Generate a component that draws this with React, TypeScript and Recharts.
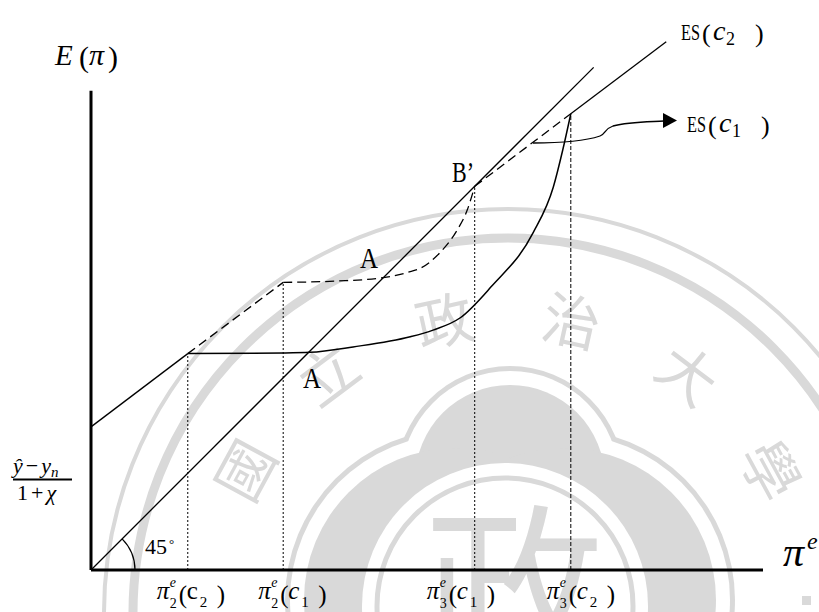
import React from 'react';
import { ComposedChart, Line, XAxis, YAxis } from 'recharts';

// ---- chart geometry -------------------------------------------------------
const W = 819;
const H = 612;
const M = { top: 32.4, right: 56, bottom: 42, left: 91 };
const X_MAX = 10;
const Y_MAX = 8;
const px = (v: number) => M.left + (v / X_MAX) * (W - M.left - M.right);
const py = (v: number) => H - M.bottom - (v / Y_MAX) * (H - M.top - M.bottom);

// ---- data (expected inflation vs. expected price level) -------------------
const axisVertical = [{ x: 0, y: 0 }, { x: 0, y: 7.13 }];
const axisHorizontal = [{ x: 0, y: 0 }, { x: 10, y: 0 }];
const line45 = [{ x: 0, y: 0 }, { x: 7.48, y: 7.48 }];

// ES(c2): solid
const esC2Lower = [{ x: 0, y: 2.13 }, { x: 1.44, y: 3.22 }];
const esC2Curve = [
  { x: 1.44, y: 3.22 },
  { x: 2.86, y: 3.23 },
  { x: 3.26, y: 3.24 },
  { x: 3.9, y: 3.32 },
  { x: 4.75, y: 3.47 },
  { x: 5.09, y: 3.57 },
  { x: 5.49, y: 3.75 },
  { x: 5.95, y: 4.21 },
  { x: 6.58, y: 5.02 },
  { x: 6.88, y: 5.7 },
  { x: 7.02, y: 6.25 },
  { x: 7.14, y: 6.79 },
];
const esC2Upper = [{ x: 7.14, y: 6.79 }, { x: 8.56, y: 7.86 }];

// ES(c1): dashed
const esC1Lower = [{ x: 1.44, y: 3.22 }, { x: 2.86, y: 4.28 }];
const esC1Curve = [
  { x: 2.86, y: 4.28 },
  { x: 3.66, y: 4.3 },
  { x: 4.35, y: 4.35 },
  { x: 4.75, y: 4.44 },
  { x: 4.9, y: 4.49 },
  { x: 5.19, y: 4.72 },
  { x: 5.45, y: 5.06 },
  { x: 5.6, y: 5.36 },
  { x: 5.71, y: 5.71 },
];
const esC1Upper = [{ x: 5.71, y: 5.71 }, { x: 7.14, y: 6.79 }];

// vertical guides at the kinks
const guideX = [1.44, 2.86, 5.71, 7.14];
const guideTop = [3.22, 4.28, 5.71, 6.79];
const guideDash = ['2 2', '2 2', '2 2', '4 2'];

// axis tick labels: π_sub^e(c_argSub)
const tickSub = ['2', '2', '3', '3'];
const tickArgSub = ['2', '1', '1', '2'];
const tickArgItalic = [false, true, true, true];
const tickNudge = [-31, -25, -48, -24];

// watermark emblem text
const emblemChars = ['國', '立', '政', '治', '大', '學'];
const emblemAngles = [-61.5, -37, -12.3, 12.3, 37, 61.5];

const SERIF = '"Liberation Serif", "Times New Roman", serif';
const CJK = '"Noto Sans CJK TC", "Noto Sans CJK SC", sans-serif';
const WM = '#d9d9d9';

const seg = (data: { x: number; y: number }[], key: string, opts: any) => (
  <Line
    key={key}
    data={data}
    dataKey="y"
    type={opts.type || 'linear'}
    stroke="#000"
    strokeWidth={opts.width || 1.3}
    strokeDasharray={opts.dash}
    dot={false}
    activeDot={false}
    isAnimationActive={false}
    legendType="none"
  />
);

function Watermark() {
  const cx = 508;
  const cy = 613;
  // cloud lobes: [cx, cy, r]
  const lobes: [number, number, number][] = [
    [510, 480, 95],
    [564, 600, 152],
    [456, 600, 152],
  ];
  return (
    <svg width={W} height={H} style={{ position: 'absolute', left: 0, top: 0 }}>
      <circle cx={cx} cy={cy} r={404} fill="none" stroke={WM} strokeWidth={4} />
      <circle cx={cx} cy={cy} r={375} fill="none" stroke={WM} strokeWidth={9} />
      {emblemChars.map((c, i) => (
        <text
          key={c}
          x={cx}
          y={cy - 302}
          transform={`rotate(${emblemAngles[i]} ${cx} ${cy})`}
          textAnchor="middle"
          dominantBaseline="central"
          fontSize={58}
          fontFamily={CJK}
          fill={WM}
        >
          {c}
        </text>
      ))}
      {lobes.map(([x, y, r], i) => (
        <circle key={'o' + i} cx={x} cy={y} r={r + 19} fill={WM} />
      ))}
      {lobes.map(([x, y, r], i) => (
        <circle key={'w' + i} cx={x} cy={y} r={r + 14} fill="#fff" />
      ))}
      {lobes.map(([x, y, r], i) => (
        <circle key={'f' + i} cx={x} cy={y} r={r} fill={WM} />
      ))}
      <circle cx={505} cy={606} r={143} fill="#fff" />
      <circle cx={505} cy={606} r={128} fill="none" stroke={WM} strokeWidth={5} />
      <text x={514} y={656} textAnchor="middle" fontSize={180} fontFamily={CJK} fill={WM}>
        政
      </text>
      <rect x={802} y={596} width={9} height={9} fill={WM} />
    </svg>
  );
}

function TickLabel({ i }: { i: number }) {
  const x0 = px(guideX[i]) + tickNudge[i];
  return (
    <g fontFamily={SERIF} fill="#000">
      <text x={x0} y={599} fontSize={25} fontStyle="italic">π</text>
      <text x={x0 + 13} y={587} fontSize={14} fontStyle="italic">e</text>
      <text x={x0 + 13} y={608} fontSize={14}>{tickSub[i]}</text>
      <text x={x0 + 22} y={603} fontSize={25}>(</text>
      <text x={x0 + 30} y={599} fontSize={25} fontStyle={tickArgItalic[i] ? 'italic' : 'normal'}>c</text>
      <text x={x0 + 43} y={607} fontSize={15}>{tickArgSub[i]}</text>
      <text x={x0 + 60} y={603} fontSize={25}>)</text>
    </g>
  );
}

function CurveName({ x, y, sub }: { x: number; y: number; sub: string }) {
  return (
    <g>
      <text x={x} y={y} fontSize={23} textLength={19} lengthAdjust="spacingAndGlyphs">ES</text>
      <text x={x + 21} y={y + 2} fontSize={26}>(</text>
      <text x={x + 32} y={y} fontSize={28} fontStyle="italic">c</text>
      <text x={x + 45} y={y + 5} fontSize={18}>{sub}</text>
      <text x={x + 74} y={y + 2} fontSize={26}>)</text>
    </g>
  );
}

function Annotations() {
  const o = { x: px(0), y: py(0) };
  const r = 44;
  const a = Math.PI / 4;
  return (
    <svg width={W} height={H} style={{ position: 'absolute', left: 0, top: 0 }}>
      <g fontFamily={SERIF} fill="#000">
        {/* axis titles */}
        <text x={55} y={65} fontSize={29} fontStyle="italic">E</text>
        <text x={79} y={67} fontSize={30}>(</text>
        <text x={89} y={65} fontSize={30} fontStyle="italic">π</text>
        <text x={108} y={67} fontSize={30}>)</text>

        <text x={783} y={566} fontSize={42} fontStyle="italic">π</text>
        <text x={807} y={549} fontSize={24} fontStyle="italic">e</text>

        {/* intercept as a fraction */}
        <text x={13} y={473} fontSize={22}>
          <tspan fontStyle="italic">ŷ</tspan>
          <tspan dx={3}>−</tspan>
          <tspan dx={3} fontStyle="italic">y</tspan>
          <tspan fontSize={15} dy={4} fontStyle="italic">n</tspan>
        </text>
        <line x1={13} x2={72} y1={479.5} y2={479.5} stroke="#000" strokeWidth={1.8} />
        <text x={17} y={500} fontSize={22}>
          <tspan>1</tspan>
          <tspan dx={3}>+</tspan>
          <tspan dx={3} fontStyle="italic">χ</tspan>
        </text>

        {/* 45 degree mark */}
        <path
          d={`M ${o.x + r} ${o.y} A ${r} ${r} 0 0 0 ${o.x + r * Math.cos(a)} ${o.y - r * Math.sin(a)}`}
          fill="none"
          stroke="#000"
          strokeWidth={1.2}
        />
        <text x={145} y={554} fontSize={22}>45</text>
        <text x={169} y={548} fontSize={13}>°</text>

        {/* point labels */}
        <text x={360} y={268} fontSize={30} textLength={18} lengthAdjust="spacingAndGlyphs">A</text>
        <text x={303} y={388} fontSize={30} textLength={18} lengthAdjust="spacingAndGlyphs">A</text>
        <text x={452} y={182} fontSize={30} textLength={22} lengthAdjust="spacingAndGlyphs">B’</text>

        {/* curve names */}
        <CurveName x={681} y={40} sub="2" />
        <CurveName x={687} y={132} sub="1" />

        {/* pointer to ES(c1) */}
        <path
          d="M 533 143 C 560 143, 585 141, 600 136 C 606 134, 604 129, 613 126 C 628 122, 645 122, 664 121"
          fill="none"
          stroke="#000"
          strokeWidth={1.3}
        />
        <path d="M 663 113 L 677 120.5 L 663 128 Z" fill="#000" />

        {guideX.map((_, i) => (
          <TickLabel key={i} i={i} />
        ))}
      </g>
    </svg>
  );
}

export default function App() {
  return (
    <div style={{ position: 'absolute', left: 0, top: 0, width: W, height: H, background: '#fff', overflow: 'hidden' }}>
      <Watermark />
      <div style={{ position: 'absolute', left: 0, top: 0 }}>
        <ComposedChart width={W} height={H} margin={M}>
          <XAxis type="number" dataKey="x" domain={[0, X_MAX]} hide />
          <YAxis type="number" dataKey="y" domain={[0, Y_MAX]} hide />
          {guideX.map((gx, i) =>
            seg(
              [
                { x: gx, y: 0 },
                { x: gx, y: guideTop[i] },
              ],
              'g' + i,
              { width: 1, dash: guideDash[i] }
            )
          )}
          {seg(line45, 'l45', { width: 1.3 })}
          {seg(esC2Lower, 'c2a', { width: 1.3 })}
          {seg(esC2Curve, 'c2b', { width: 1.5, type: 'monotone' })}
          {seg(esC2Upper, 'c2c', { width: 1.3 })}
          {seg(esC1Lower, 'c1a', { width: 1.3, dash: '9 5' })}
          {seg(esC1Curve, 'c1b', { width: 1.3, dash: '9 5', type: 'monotone' })}
          {seg(esC1Upper, 'c1c', { width: 1.3, dash: '9 5' })}
          {seg(axisVertical, 'ay', { width: 3 })}
          {seg(axisHorizontal, 'ax', { width: 3 })}
        </ComposedChart>
      </div>
      <Annotations />
    </div>
  );
}
